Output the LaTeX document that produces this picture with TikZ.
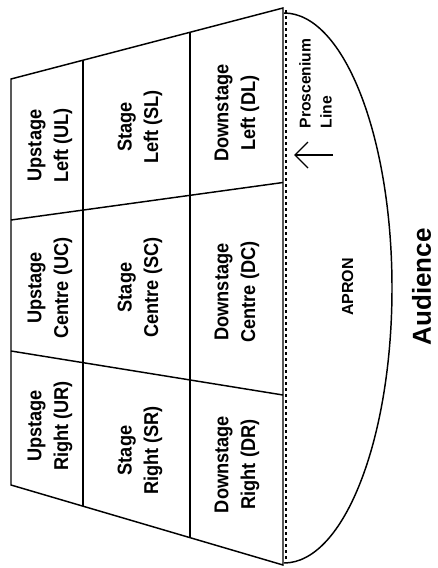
\documentclass[tikz,border=0pt]{standalone}
\usepackage{fontspec}
\setmainfont{Liberation Sans}
\newfontfamily\condsf[FakeStretch=0.91]{Liberation Sans}

\tikzset{every picture/.style={line width=1.1pt}}
\tikzset{
  zone/.style={rotate=90, align=center, inner sep=0.75pt, font=\condsf\bfseries\fontsize{15}{20}\selectfont},
  sidetext/.style={rotate=90, align=left, inner sep=0pt, font=\bfseries\fontsize{11.75}{15.75}\selectfont},
  proline/.style={line width=1.5pt, dash pattern={on 2.6pt off 1.9pt}}
}

\begin{document}
\begin{tikzpicture}[x=0.75pt,y=0.75pt,yscale=-1,xscale=1]
\useasboundingbox (0,0) rectangle (437,568);

%Shape: Trapezoid (stage)
\draw   (11,79) -- (283,8) -- (283,565) -- (11,485) -- cycle ;
%Straight Lines (columns)
\draw   (83,60.2) -- (83,506.2) ;
\draw   (190,32.3) -- (190,537.6) ;
%Straight Lines (rows)
\draw   (11,220) -- (283,182.5) ;
\draw   (11,351) -- (283,395) ;
%Straight Lines (proscenium)
\draw [proline]  (286.3,10) -- (286.3,563) ;
%Shape: Arc (apron)
\draw   (284,13) arc [start angle=-90, end angle=90, x radius=108, y radius=275] ;
%Straight Lines (arrow)
\coordinate (arrowtail) at (333,155);
\coordinate (arrowtip) at (295,155);
\draw [line width=0.9pt]  (arrowtail) -- (arrowtip) ;
\draw [line width=0.9pt, shift={(arrowtip)}]  (13,-13) -- (0,0) -- (13,13) ;

% Text Node
\draw (50,145.5) node (ul) [zone] {Upstage\\Left (UL)};
% Text Node
\draw (140,127) node (sl) [zone] {Stage\\Left (SL)};
% Text Node
\draw (237,113) node (dl) [zone] {Downstage\\Left (DL)};
% Text Node
\draw (50,288) node (uc) [zone] {Upstage\\Centre (UC)};
% Text Node
\draw (140,287.5) node (sc) [zone] {Stage\\Centre (SC)};
% Text Node
\draw (237,292) node (dc) [zone] {Downstage\\Centre (DC)};
% Text Node
\draw (50,426) node (ur) [zone] {Upstage\\Right (UR)};
% Text Node
\draw (140,450.5) node (sr) [zone] {Stage\\Right (SR)};
% Text Node
\draw (237,464.5) node (dr) [zone] {Downstage\\Right (DR)};
% Text Node
\draw (315.5,83.5) node (pros) [sidetext] {Proscenium\\Line};
% Text Node
\draw (347.5,287) node (apron) [rotate=90, inner sep=0pt, font=\bfseries\fontsize{12}{14}\selectfont] {APRON};
% Text Node
\draw (421.5,287) node (aud) [rotate=90, inner sep=0pt, font=\bfseries\fontsize{19.5}{23}\selectfont] {Audience};

\end{tikzpicture}
\end{document}
